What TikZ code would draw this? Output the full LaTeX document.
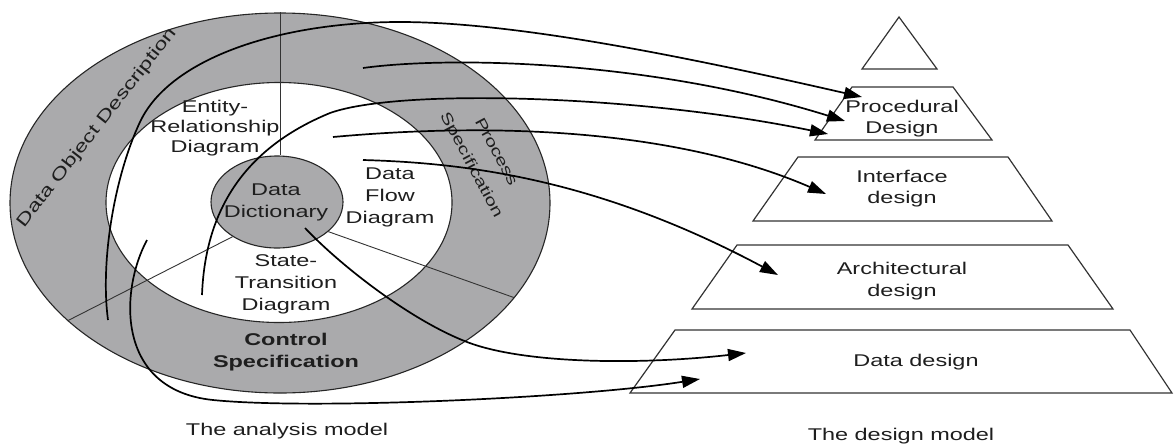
\documentclass[tikz,border=0pt]{standalone}
\usepackage{fontspec}
\setmainfont{Liberation Sans}[FakeStretch=1.38]
\usetikzlibrary{arrows.meta,shapes.geometric}

\definecolor{ringgray}{RGB}{170,170,172}
\definecolor{inkgray}{RGB}{30,30,30}

\begin{document}
\begin{tikzpicture}[x=1pt,y=-1pt,
  txt/.style={text=inkgray, align=center, inner sep=0pt, font=\fontsize{17}{22}\selectfont},
  txtbold/.style={txt, font=\fontsize{17}{22}\selectfont\bfseries},
  region/.style={ellipse, inner sep=0pt, draw=black!85, line width=1.1pt},
  divider/.style={draw=black!80, line width=0.9pt},
  level/.style={draw=black!80, line width=1.2pt, line join=miter},
  flow/.style={draw=black, line width=1.7pt, -{Triangle[length=18pt,width=12pt]}},
]
\useasboundingbox (0,0) rectangle (1175,445);

% ---------- analysis model ----------
\node[region, fill=ringgray, minimum width=540pt, minimum height=380pt] (outer) at (280,203) {};
\node[region, fill=white, minimum width=346pt, minimum height=240pt] (inner) at (279,202.5) {};
\node[region, fill=ringgray, minimum width=132pt, minimum height=92pt] (dd) at (277,202) {};

\draw[divider] (outer.north) -- (outer.north |- dd.north);
\draw[divider] (dd.218) -- (outer.209);
\draw[divider] (dd.330) -- (outer.338);

\node[txt, rotate=52] (dod) at (97,128) {Data Object Description};
\node[txt, rotate=-62, font=\fontsize{15}{28}\selectfont] (ps) at (483,159) {Process\\Specification};
\node[txt, font=\fontsize{17}{20}\selectfont] (er) at (215,128) {Entity-\\Relationship\\Diagram};
\node[txt] (dfd) at (390,197) {Data\\Flow\\Diagram};
\node[txt] (ddt) at (276,202) {Data\\Dictionary};
\node[txt] (std) at (286,284) {State-\\Transition\\Diagram};
\node[txtbold] (cs) at (286,352) {Control\\Specification};
\node[txt] (am) at (287,431) {The analysis model};

% ---------- design model ----------
\draw[level] (899,17) -- (937,69) -- (862,69) -- cycle;
\draw[level] (852,87) -- (953,87) -- (992,140) -- (815,140) -- cycle;
\draw[level] (798,157) -- (1008,157) -- (1052,221) -- (753,221) -- cycle;
\draw[level] (737,245) -- (1068,245) -- (1113,309) -- (692,309) -- cycle;
\draw[level] (675,330) -- (1130,330) -- (1172,393) -- (630,393) -- cycle;

\node[txt, font=\fontsize{17}{21}\selectfont] (proc) at (902,119) {Procedural\\Design};
\node[txt, font=\fontsize{17}{21}\selectfont] (intf) at (902,189) {Interface\\design};
\node[txt, font=\fontsize{17}{22}\selectfont] (arch) at (902,281) {Architectural\\design};
\node[txt] (data) at (916,362) {Data design};
\node[txt] (dm) at (901,436) {The design model};

% ---------- mappings ----------
\coordinate (s1) at (108,320);
\coordinate (s2) at (363,68);
\coordinate (s3) at (202,295);
\coordinate (s4) at (333,137);
\coordinate (s5) at (363,160);
\coordinate (s6) at (305,228);
\coordinate (s7) at (147,240);

\coordinate (t1) at (862,97);
\coordinate (t2) at (845,121);
\coordinate (t3) at (828,134);
\coordinate (t4) at (826,194);
\coordinate (t5) at (778,275);
\coordinate (t6) at (746,353);
\coordinate (t7) at (700,379);

\draw[flow] (s1) .. controls (100,260) and (115,175) .. (140,122)
                 .. controls (170,58) and (280,22) .. (400,22)
                 .. controls (520,22) and (700,60) .. (t1);
\draw[flow] (s2) .. controls (450,56) and (650,60) .. (t2);
\draw[flow] (s3) .. controls (205,215) and (240,150) .. (330,113)
                 .. controls (400,88) and (640,95) .. (t3);
\draw[flow] (s4) .. controls (520,120) and (690,135) .. (t4);
\draw[flow] (s5) .. controls (470,163) and (600,180) .. (t5);
\draw[flow] (s6) .. controls (340,265) and (410,320) .. (467,342)
                 .. controls (524,364) and (640,365) .. (t6);
\draw[flow] (s7) .. controls (120,290) and (115,390) .. (213,400)
                 .. controls (311,410) and (580,398) .. (t7);
\end{tikzpicture}
\end{document}
